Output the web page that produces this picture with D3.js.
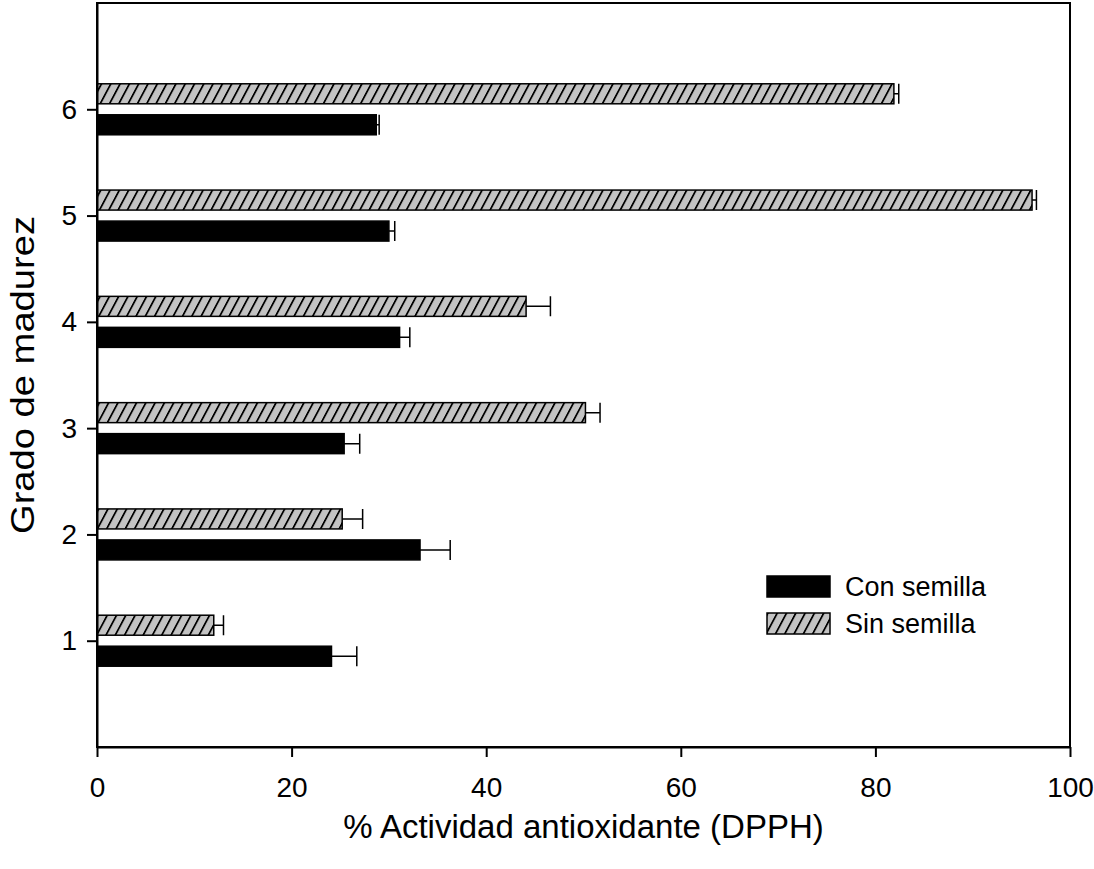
<!DOCTYPE html>
<meta charset="utf-8">
<style>
    body { margin: 0; background: #fff; }
    text { font-family: "Liberation Sans", Arial, sans-serif; fill: #000; }
    .axis path, .axis line { stroke: #000; stroke-width: 2px; }
    .axis text { font-size: 28px; }
    .errbar { stroke: #000; stroke-width: 1.5px; fill: none; }
</style>

<svg width="1094" height="869"></svg>
<script src="https://d3js.org/d3.v7.min.js"></script>
<script>

    var grados = [1, 2, 3, 4, 5, 6];
    var series = ["Con semilla", "Sin semilla"];
    var conSemilla = [24.1, 33.2, 25.4, 31.1, 30.0, 28.7];
    var conSemillaErr = [2.6, 3.1, 1.6, 1.05, 0.6, 0.3];
    var sinSemilla = [12.0, 25.2, 50.2, 44.1, 96.1, 81.9];
    var sinSemillaErr = [1.0, 2.1, 1.5, 2.5, 0.45, 0.5];
    var xTicks = [0, 20, 40, 60, 80, 100];

    var margin = { left: 97, top: 3, right: 24, bottom: 122 };
    var svg = d3.select("svg");
    var width = 1094 - margin.left - margin.right;
    var height = 869 - margin.top - margin.bottom;

    // hatch pattern for "Sin semilla"
    var defs = svg.append("defs");
    var pat = defs.append("pattern")
        .attr("id", "hatch")
        .attr("patternUnits", "userSpaceOnUse")
        .attr("width", 9.3)
        .attr("height", 20)
        .attr("patternTransform", "skewX(-28)");
    pat.append("rect").attr("width", 9.3).attr("height", 20).attr("fill", "#c3c3c3");
    pat.append("line").attr("x1", 1).attr("x2", 1).attr("y1", 0).attr("y2", 20)
        .attr("stroke", "#000").attr("stroke-width", 2);

    var g = svg.append("g")
        .attr("transform", "translate(" + margin.left + "," + margin.top + ")");

    var x = d3.scaleLinear().domain([0, 100]).range([0, width]);
    var y = d3.scaleLinear().domain([0, 7]).range([height, 0]);

    var barH = 20, offset = 15.5;

    var data = grados.map(function (d, i) {
        return [
            { grado: d, v: conSemilla[i], e: conSemillaErr[i], s: 0 },
            { grado: d, v: sinSemilla[i], e: sinSemillaErr[i], s: 1 }
        ];
    }).flat();

    function barY(d) {
        return d.s === 0 ? y(d.grado) + offset - barH / 2 : y(d.grado) - offset - barH / 2;
    }

    g.selectAll(".errbar")
        .data(data)
        .enter().append("path")
        .attr("class", "errbar")
        .attr("d", function (d) {
            var cy = barY(d) + barH / 2;
            var x1 = x(d.v), x2 = x(d.v + d.e);
            return "M" + x1 + "," + cy + "H" + x2 + "M" + x2 + "," + (cy - barH / 2) + "V" + (cy + barH / 2);
        });

    g.selectAll(".bar")
        .data(data)
        .enter().append("rect")
        .attr("class", "bar")
        .attr("x", x(0))
        .attr("y", barY)
        .attr("width", function (d) { return x(d.v) - x(0); })
        .attr("height", barH)
        .attr("fill", function (d) { return d.s === 0 ? "#000" : "url(#hatch)"; })
        .attr("stroke", "#000")
        .attr("stroke-width", 1.5);

    // frame
    g.append("rect")
        .attr("width", width).attr("height", height)
        .attr("fill", "none").attr("stroke", "#000").attr("stroke-width", 2);

    g.append("g")
        .attr("class", "axis")
        .attr("transform", "translate(0," + height + ")")
        .call(d3.axisBottom(x).tickValues(xTicks).tickSize(10).tickPadding(20).tickSizeOuter(0));

    g.append("g")
        .attr("class", "axis")
        .call(d3.axisLeft(y).tickValues(grados).tickFormat(d3.format("d")).tickSize(10).tickPadding(10).tickSizeOuter(0));

    g.append("text")
        .attr("x", width / 2)
        .attr("y", height + 91)
        .attr("text-anchor", "middle")
        .style("font-size", "33px")
        .text("% Actividad antioxidante (DPPH)");

    svg.append("text")
        .attr("transform", "translate(22," + (margin.top + height / 2) + ") rotate(-90)")
        .attr("text-anchor", "middle")
        .attr("dy", "0.35em")
        .attr("textLength", 318)
        .attr("lengthAdjust", "spacingAndGlyphs")
        .style("font-size", "34px")
        .text("Grado de madurez");

    var legend = svg.append("g")
        .selectAll("g")
        .data(series)
        .enter().append("g")
        .attr("transform", function (d, i) { return "translate(767," + (576 + i * 37) + ")"; });

    legend.append("rect")
        .attr("width", 63)
        .attr("height", 21)
        .attr("fill", function (d, i) { return i === 0 ? "#000" : "url(#hatch)"; })
        .attr("stroke", "#000")
        .attr("stroke-width", 1.5);

    legend.append("text")
        .attr("x", 78)
        .attr("y", 10.5)
        .attr("dy", "0.35em")
        .style("font-size", "27px")
        .text(function (d) { return d; });

</script>
